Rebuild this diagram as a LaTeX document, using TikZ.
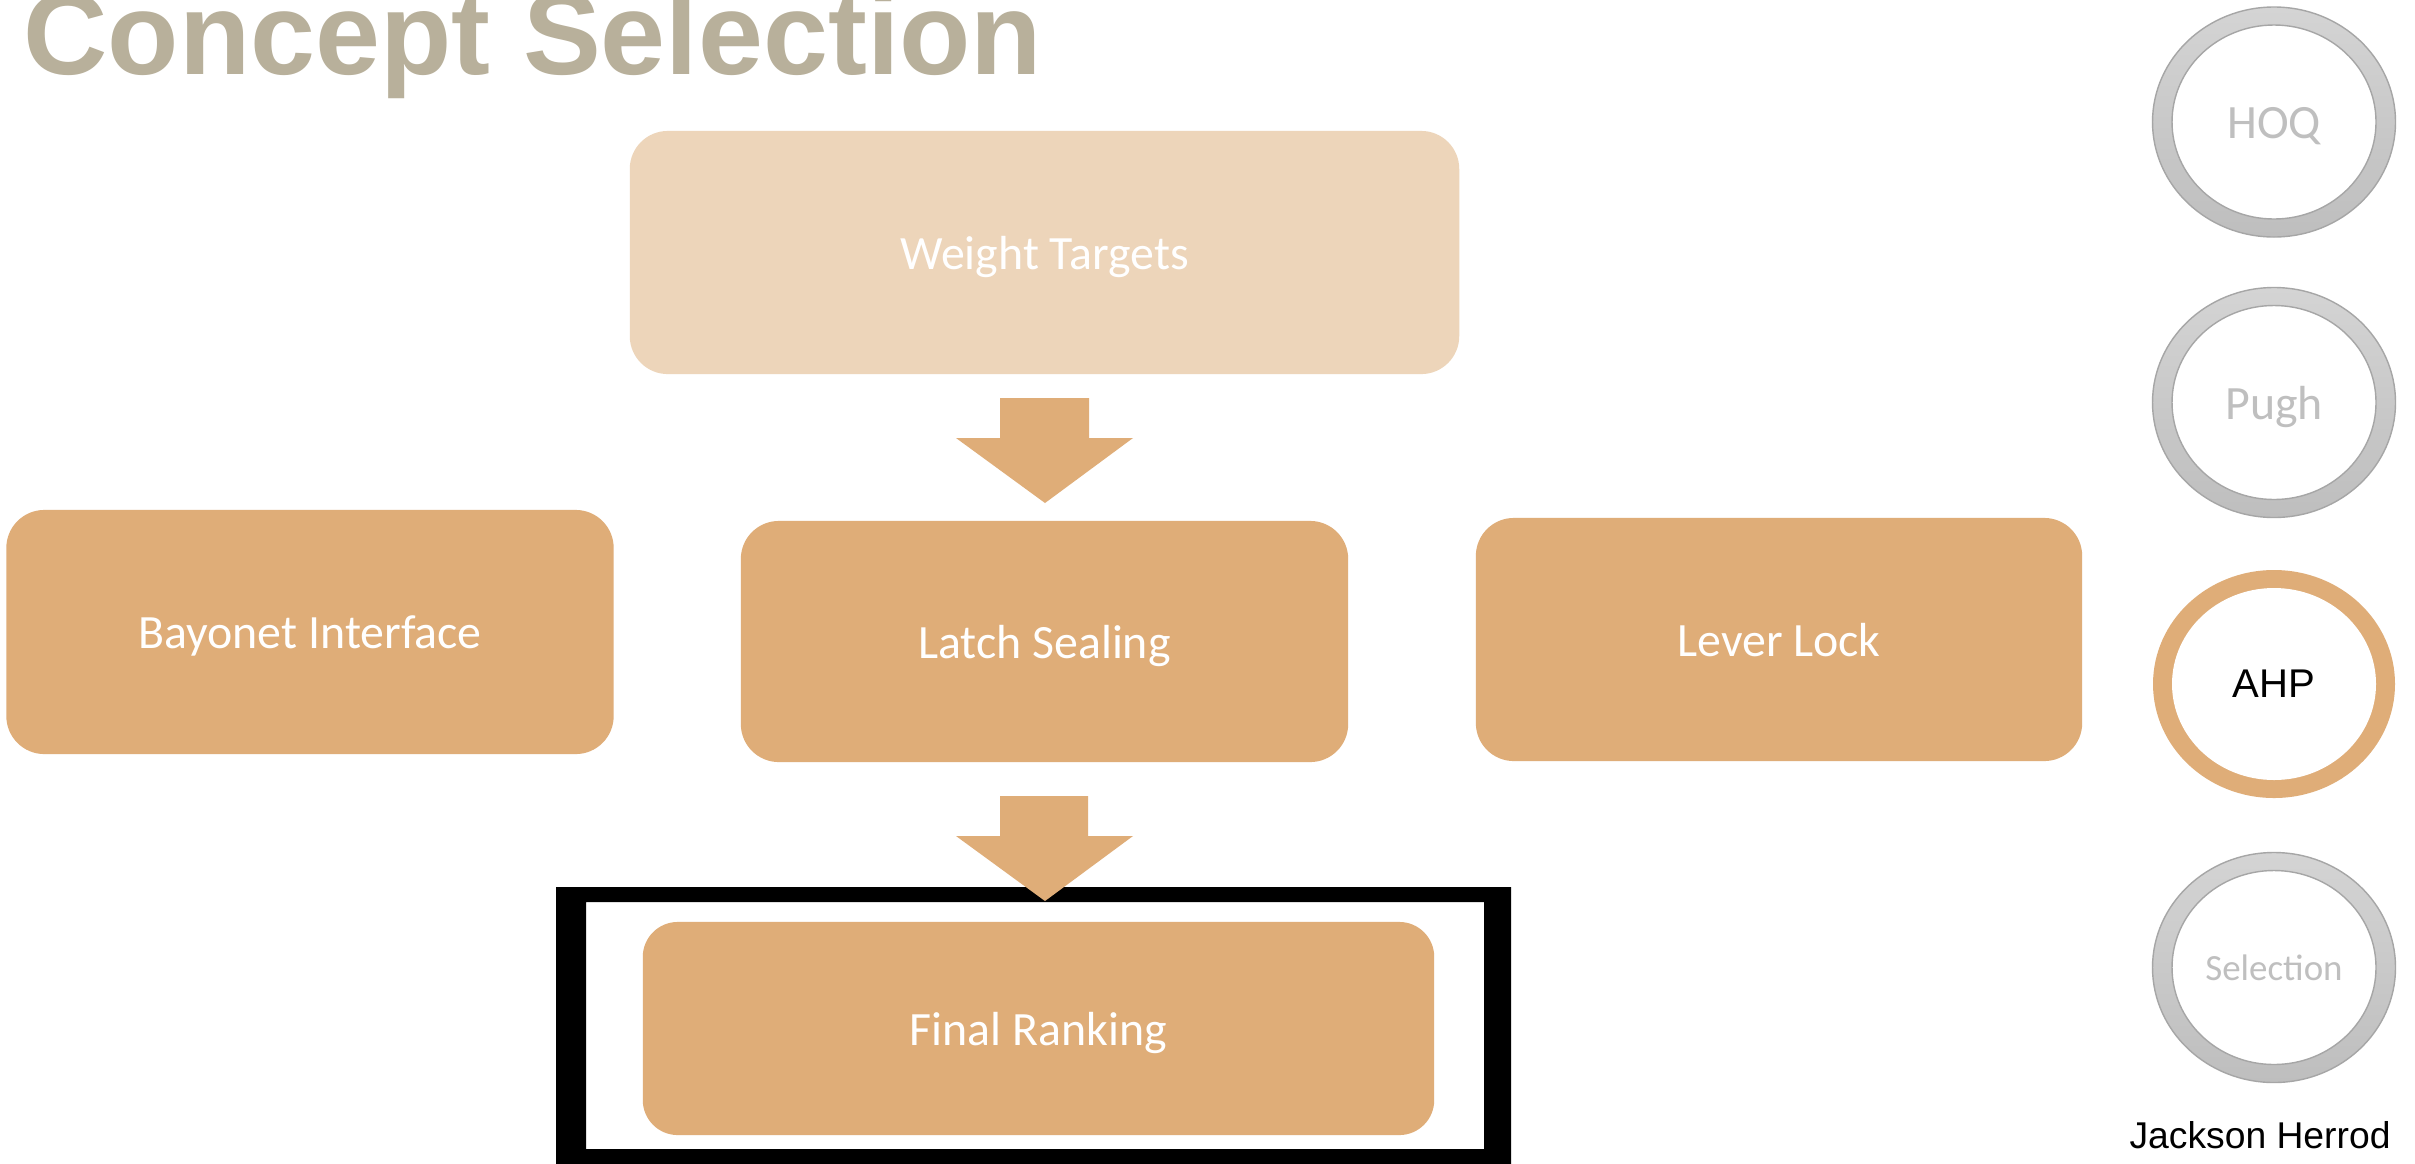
\documentclass[tikz,border=0pt]{standalone}
\usepackage{fontspec}
\setmainfont{Carlito}
\newfontfamily\arialfont{Liberation Sans}
\definecolor{boxorange}{HTML}{DFAD78}
\definecolor{lightorange}{HTML}{EDD5BA}
\definecolor{titlegray}{HTML}{B8B09B}
\definecolor{ringtop}{HTML}{D4D4D4}
\definecolor{ringbot}{HTML}{BEBEBE}
\definecolor{ringline}{HTML}{A6A6A6}
\definecolor{labelgray}{HTML}{BFBFBF}
\tikzset{
  stepbox/.style={fill=boxorange, draw=none, rounded corners=0.38cm, text=white,
    font=\fontsize{13.6pt}{16pt}\selectfont, inner sep=0pt, text height=9.5pt, text depth=0pt},
  blockarrow/.style={fill=boxorange, draw=none},
  grayring/.style={draw=ringline, line width=0.4pt, top color=ringtop, bottom color=ringbot},
  innerdisc/.style={fill=white, draw=ringline, line width=0.4pt},
  ringlabel/.style={text=labelgray, inner sep=0pt, font=\fontsize{13.6pt}{16pt}\selectfont,
    text height=9.5pt, text depth=0pt}
}
\begin{document}
\begin{tikzpicture}[x=0.01cm,y=-0.01cm]
\useasboundingbox[fill=white] (0,0) rectangle (2415,1163);
% title
\node[anchor=base west, inner sep=0pt, text=titlegray,
  font=\arialfont\bfseries\fontsize{33.2pt}{38pt}\selectfont] (title) at (23,74) {Concept Selection};
% boxes
\node[stepbox, fill=lightorange, minimum width=8.29cm, minimum height=2.43cm] (weight) at (1044.5,252.5) {Weight Targets};
\node[stepbox, minimum width=6.07cm, minimum height=2.41cm] (latch) at (1044.5,641.5) {Latch Sealing};
\node[stepbox, minimum width=6.07cm, minimum height=2.44cm] (bayonet) at (310,632) {Bayonet Interface};
\node[stepbox, minimum width=6.06cm, minimum height=2.43cm] (lever) at (1779,639.5) {Lever Lock};
% frame
\fill[black, even odd rule] (556,887) rectangle (1511,1180) (586,902) rectangle (1484,1149);
\node[stepbox, rounded corners=0.35cm, minimum width=7.91cm, minimum height=2.13cm] (final) at (1038.5,1028.5) {Final Ranking};
% block arrows
\fill[blockarrow] (1000,398) -- (1089,398) -- (1089,438) -- (1133,438) -- (1045,503) -- (956,438) -- (1000,438) -- cycle;
\fill[blockarrow] (1000,796) -- (1088,796) -- (1088,836) -- (1133,836) -- (1045,901) -- (956,836) -- (1000,836) -- cycle;
% rings
\path[grayring] (2274,122) ellipse [x radius=121.5, y radius=115];
\path[innerdisc] (2274,122) ellipse [x radius=102, y radius=97];
\node[ringlabel] (hoq) at (2274,122) {HOQ};
\path[grayring] (2274,402.5) ellipse [x radius=121.5, y radius=115];
\path[innerdisc] (2274,402.5) ellipse [x radius=102, y radius=97];
\node[ringlabel] (pugh) at (2274,402.5) {Pugh};
\path[fill=boxorange] (2274,684) ellipse [x radius=121, y radius=114];
\path[fill=white] (2274,684) ellipse [x radius=102, y radius=96];
\node[inner sep=0pt, text=black, font=\arialfont\fontsize{11.4pt}{14pt}\selectfont] (ahp) at (2274,684) {AHP};
\path[grayring] (2274,967.5) ellipse [x radius=121.5, y radius=115];
\path[innerdisc] (2274,967.5) ellipse [x radius=102, y radius=97];
\node[ringlabel, font=\fontsize{10.5pt}{13pt}\selectfont, text height=7.4pt] (sel) at (2274,967.5) {Selection};
% author
\node[inner sep=0pt, text=black, font=\arialfont\fontsize{10.6pt}{13pt}\selectfont] (author) at (2260,1135) {Jackson Herrod};
\end{tikzpicture}
\end{document}
